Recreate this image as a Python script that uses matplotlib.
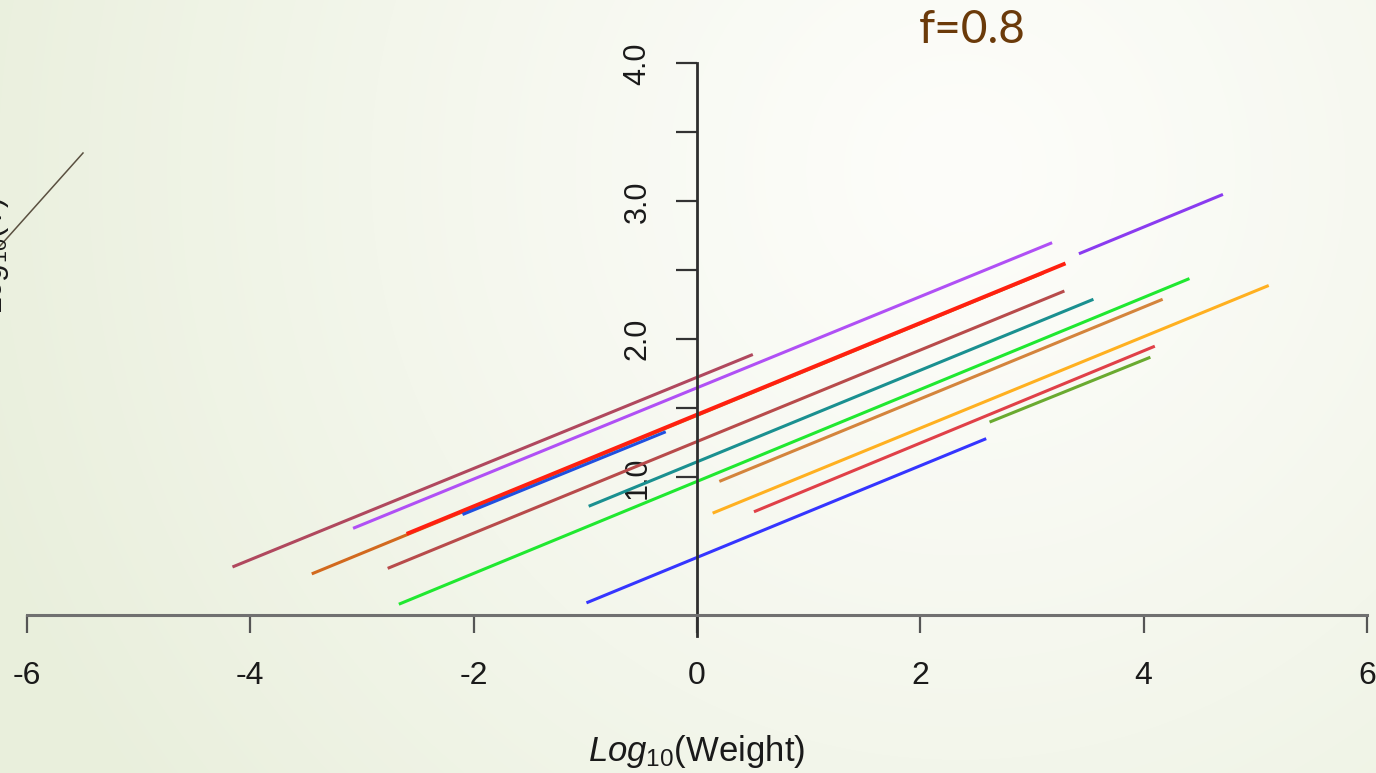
import numpy as np
import matplotlib
matplotlib.use("Agg")
import matplotlib.pyplot as plt

plt.rcParams['font.family'] = ['Liberation Sans', 'DejaVu Sans']
plt.rcParams['axes.unicode_minus'] = False
plt.rcParams['mathtext.fontset'] = 'custom'
plt.rcParams['mathtext.it'] = 'Liberation Sans:italic'
plt.rcParams['mathtext.rm'] = 'Liberation Sans'

# segment end points (x = log10 weight)
x_start = [-4.16, -3.08, -3.45, -2.60, -2.10, -2.77, -0.97, -2.67, 0.20, 0.14, 0.51, 2.62, -0.99, 3.42]
x_end = [0.50, 3.18, 3.10, 3.30, -0.28, 3.29, 3.55, 4.41, 4.17, 5.12, 4.10, 4.06, 2.59, 4.71]
y_start = [0.35, 0.63, 0.30, 0.59, 0.73, 0.34, 0.79, 0.08, 0.97, 0.74, 0.75, 1.40, 0.09, 2.62]
y_end = [1.89, 2.70, 2.48, 2.55, 1.33, 2.35, 2.29, 2.44, 2.29, 2.39, 1.95, 1.87, 1.28, 3.05]
line_colors = ['#B0485E', '#B050F5', '#D2691E', '#FF2010', '#2050E0', '#B84B4B', '#1A9090',
               '#20E830', '#D4843C', '#FFB020', '#E04048', '#6AAA30', '#3535FF', '#8A3BF0']
line_widths = [2.2, 2.2, 2.2, 2.8, 2.2, 2.2, 2.2, 2.2, 2.2, 2.2, 2.2, 2.2, 2.2, 2.2]

x_ticks = [-6, -4, -2, 0, 2, 4, 6]
y_ticks = [1.0, 1.5, 2.0, 2.5, 3.0, 3.5, 4.0]
y_tick_labels = ['1.0', '', '2.0', '', '3.0', '', '4.0']

W, H = 1376, 773
fig = plt.figure(figsize=(W / 100, H / 100), dpi=100)

# background: soft radial gradient, white near top centre, pale green at edges
bg = fig.add_axes([0, 0, 1, 1])
yy, xx = np.mgrid[0:H, 0:W]
d = np.sqrt((xx - 960.0) ** 2 + (yy - 170.0) ** 2)
t = np.clip(d / 1050.0, 0, 1) ** 1.2
c0 = np.array([253, 253, 250]) / 255.0
c1 = np.array([233, 239, 220]) / 255.0
img = c0[None, None, :] * (1 - t[..., None]) + c1[None, None, :] * t[..., None]
bg.imshow(img, extent=[0, 1, 0, 1], aspect='auto', origin='upper')
bg.axis('off')

ax = fig.add_axes([27 / W, 0.1505, 1340 / W, 0.8122])
ax.set_facecolor('none')
ax.set_xlim(-6, 6)
ax.set_ylim(-0.3, 4.25)

for i in range(len(x_start)):
    ax.plot([x_start[i], x_end[i]], [y_start[i], y_end[i]],
            color=line_colors[i], lw=line_widths[i], solid_capstyle='butt')

# R style axes crossing at the origin
for s in ['top', 'right']:
    ax.spines[s].set_visible(False)
ax.spines['bottom'].set_position(('data', 0))
ax.spines['left'].set_position(('data', 0))
ax.spines['bottom'].set_bounds(-6, 6)
ax.spines['left'].set_bounds(-0.15, 4.0)
ax.spines['bottom'].set_color('#707070')
ax.spines['bottom'].set_linewidth(2.2)
ax.spines['left'].set_color('#2e2e2e')
ax.spines['left'].set_linewidth(2.0)

ax.set_xticks(x_ticks)
ax.set_xticklabels([str(v) for v in x_ticks])
ax.set_yticks(y_ticks)
ax.set_yticklabels(y_tick_labels)
ax.tick_params(axis='x', direction='out', length=13, width=1.6, color='#555555',
               pad=20, labelsize=23, labelcolor='#1a1a1a')
ax.tick_params(axis='y', direction='out', length=15, width=1.6, color='#333333',
               pad=17, labelsize=22, labelcolor='#1a1a1a', labelrotation=90)
for lab in ax.get_yticklabels():
    lab.set_verticalalignment('center')

fig.text(697 / W, 1 - 752 / H, r'$Log_{10}$(Weight)', fontsize=25,
         ha='center', va='center', color='#1a1a1a')

# title
fig.text(972 / W, 1 - 30 / H, 'f=0.8', fontsize=33, family='Lato',
         color='#6B3A0A', ha='center', va='center')

# clipped label and stray line at left edge
fig.text(-6 / W, 1 - 255 / H, r'$Log_{10}$(Y)', fontsize=22, rotation=90,
         ha='center', va='center', color='#1a1a1a')
fig.add_artist(plt.Line2D([0 / W, 83 / W], [1 - 246 / H, 1 - 153 / H],
                          color='#5A5040', lw=1.1, transform=fig.transFigure))

plt.savefig('out.png', dpi=100)
